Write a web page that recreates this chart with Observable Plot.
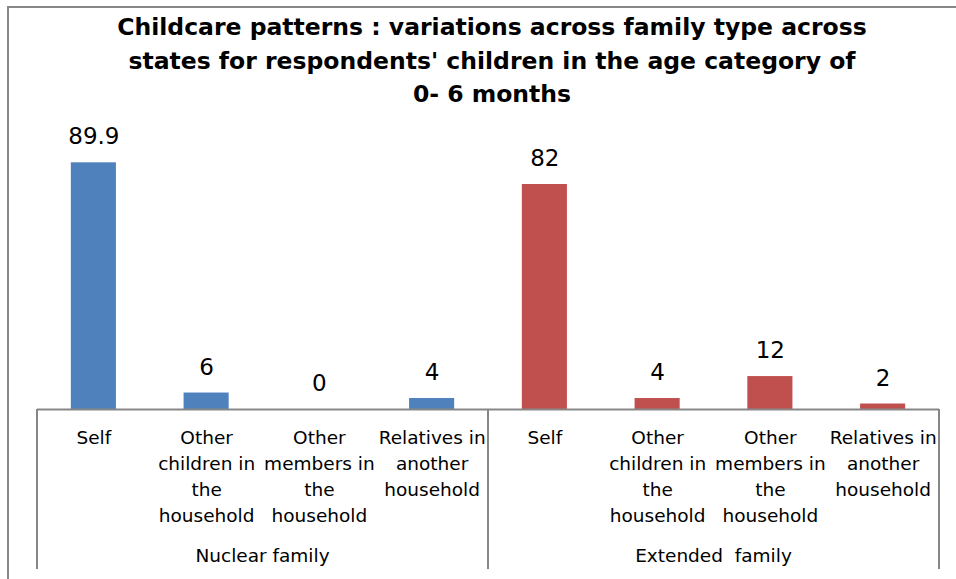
<!DOCTYPE html>
<html><head><meta charset="utf-8">
<script src="https://cdn.jsdelivr.net/npm/d3@7"></script>
<script src="https://cdn.jsdelivr.net/npm/@observablehq/plot@0.6"></script>
<style>
html,body{margin:0;padding:0;background:#fff;overflow:hidden;}
#wrap{position:relative;width:956px;height:579px;}
#frame{position:absolute;left:7px;top:6px;width:1000px;height:1000px;border-left:2px solid #878787;border-top:2px solid #878787;}
#title{position:absolute;left:0;top:11px;width:984px;text-align:center;font-family:"DejaVu Sans";font-weight:bold;font-size:23.5px;line-height:33.5px;color:#000;}
#chart{position:absolute;left:0;top:0;}
</style></head><body>
<div id="wrap"><div id="frame"></div><div id="chart"></div>
<div id="title">Childcare patterns : variations across family type across<br>states for respondents' children in the age category of<br>0- 6 months</div></div>
<script>
const groups = ["Nuclear family", "Extended  family"];
const categories = ["Self", "Other children in the household", "Other members in the household", "Relatives in another household"];
const tickLabels = ["Self", "Other\nchildren in\nthe\nhousehold", "Other\nmembers in\nthe\nhousehold", "Relatives in\nanother\nhousehold"];
const nuclearValues = [89.9, 6, 0, 4];
const extendedValues = [82, 4, 12, 2];

const groupColors = ["#4F81BD", "#C0504D"];
const seriesValues = [nuclearValues, extendedValues];

const data = [];
groups.forEach((g, gi) => categories.forEach((c, ci) => data.push({
  group: g, category: c, tick: tickLabels[ci], value: seriesValues[gi][ci], key: g + "|" + c
})));

const groupDecor = (index, scales, values, dims) => {
  const x = scales.x;
  const bw = x.bandwidth(), step = x.step();
  const half = (step - bw) / 2;
  const yTop = dims.height - dims.marginBottom;
  const yBot = dims.height - 10;
  const g = d3.create("svg:g");
  const bounds = new Set();
  groups.forEach(gr => {
    const keys = data.filter(d => d.group === gr).map(d => d.key);
    const left = x(keys[0]) - half;
    const right = x(keys[keys.length - 1]) + bw + half;
    bounds.add(Math.round(left * 100) / 100);
    bounds.add(Math.round(right * 100) / 100);
    g.append("text")
      .attr("x", (left + right) / 2)
      .attr("y", yTop + 147)
      .attr("dy", "0.35em")
      .attr("text-anchor", "middle")
      .attr("font-size", 18.5)
      .attr("fill", "#000")
      .style("white-space", "pre")
      .text(gr);
  });
  for (const b of bounds) {
    g.append("line").attr("x1", b).attr("x2", b).attr("y1", yTop).attr("y2", yBot)
      .attr("stroke", "#878787").attr("stroke-width", 2);
  }
  return g.node();
};

const chart = Plot.plot({
  width: 956,
  height: 579,
  marginLeft: 37,
  marginRight: 17,
  marginTop: 134.6,
  marginBottom: 170,
  style: {fontFamily: "DejaVu Sans", background: "transparent", overflow: "visible"},
  x: {domain: data.map(d => d.key), paddingInner: 0.6, paddingOuter: 0.3, round: false, axis: null},
  y: {domain: [0, 100], axis: null},
  color: {domain: groups, range: groupColors},
  marks: [
    Plot.barY(data, {x: "key", y: "value", fill: "group"}),
    Plot.ruleY([0], {stroke: "#878787", strokeWidth: 2}),
    Plot.text(data, {x: "key", y: "value", text: d => String(d.value), lineAnchor: "bottom", dy: -18.5, fontSize: 23, fill: "#000"}),
    Plot.text(data, {x: "key", frameAnchor: "bottom", text: "tick", lineAnchor: "top", dy: 16, fontSize: 18.5, lineHeight: 26 / 18.5, fill: "#000"}),
    groupDecor
  ]
});
document.getElementById("chart").appendChild(chart);
</script>
</body></html>
